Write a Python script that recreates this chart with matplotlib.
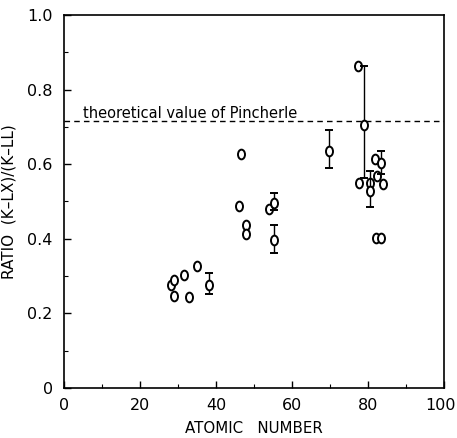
import numpy as np
import matplotlib
matplotlib.use("Agg")
import matplotlib.pyplot as plt
from matplotlib.path import Path
from matplotlib.transforms import Affine2D, ScaledTranslation

# Data
z_plain = [28.1, 28.9, 28.9, 31.6, 32.8, 34.9, 46.5, 46.0, 47.8, 47.8, 53.8,
           77.3, 77.7, 80.4, 81.8, 82.3, 83.9, 82.1, 83.5]
r_plain = [0.275, 0.290, 0.247, 0.303, 0.243, 0.327, 0.627, 0.487, 0.436, 0.413, 0.481,
           0.863, 0.550, 0.550, 0.613, 0.567, 0.547, 0.401, 0.401]

z_err = [38.1, 55.3, 55.3, 69.7, 78.9, 80.4, 83.5]
r_err = [0.276, 0.497, 0.397, 0.636, 0.705, 0.527, 0.602]
err_hi = [0.309, 0.522, 0.437, 0.692, 0.863, 0.583, 0.634]
err_lo = [0.251, 0.477, 0.361, 0.589, 0.563, 0.484, 0.574]

pincherle = 0.715
x_ticks = [0, 20, 40, 60, 80, 100]
x_ticklabels = ["0", "20", "40", "60", "80", "100"]
y_ticks = [0, 0.2, 0.4, 0.6, 0.8, 1.0]
y_ticklabels = ["0", "0.2", "0.4", "0.6", "0.8", "1.0"]

fig = plt.figure(figsize=(4.57, 4.38), dpi=100)
ax = fig.add_axes([0.140, 0.114, 0.832, 0.852])

oval = Path.unit_circle().transformed(Affine2D().scale(0.72, 1.0))

ax.plot(z_plain, r_plain, linestyle="none", marker=oval, markersize=7,
        markerfacecolor="white", markeredgecolor="black", markeredgewidth=1.4, zorder=3)

r_err_a = np.array(r_err)
yerr = [r_err_a - np.array(err_lo), np.array(err_hi) - r_err_a]
ax.errorbar(z_err, r_err, yerr=yerr, linestyle="none", marker=oval, markersize=7,
            markerfacecolor="white", markeredgecolor="black", markeredgewidth=1.4,
            ecolor="black", elinewidth=1.0, capsize=3, capthick=1.0, zorder=3)

ax.axhline(pincherle, color="black", linestyle=(0, (4, 3)), linewidth=1.0, zorder=1)
ax.text(4.9, pincherle + 0.001, "theoretical value of Pincherle", fontsize=10.5,
        ha="left", va="bottom", color="black")

ax.set_xlim(0, 100)
ax.set_ylim(0, 1.0)
ax.set_xticks(x_ticks)
ax.set_xticklabels(x_ticklabels)
ax.set_yticks(y_ticks)
ax.set_yticklabels(y_ticklabels)
ax.set_xticks([10, 30, 50, 70, 90], minor=True)
ax.set_yticks([0.1, 0.3, 0.5, 0.7, 0.9], minor=True)
ax.tick_params(axis="both", which="major", direction="in", length=5, width=1.0,
               labelsize=11.5)
ax.tick_params(axis="x", which="major", pad=7)
ax.tick_params(axis="y", which="major", pad=8)
ax.tick_params(axis="both", which="minor", direction="in", length=3, width=0.8)
for s in ax.spines.values():
    s.set_linewidth(1.2)

# nudge the last x tick label so it stays inside the figure
last = ax.get_xticklabels()[-1]
last.set_transform(last.get_transform() + ScaledTranslation(-4 / 100, 0, fig.dpi_scale_trans))

ax.set_xlabel("ATOMIC   NUMBER", fontsize=10.8, labelpad=6)
ax.set_ylabel("RATIO  (K\u2013LX)/(K\u2013LL)", fontsize=11, labelpad=8)

fig.savefig("out.png", dpi=100)
